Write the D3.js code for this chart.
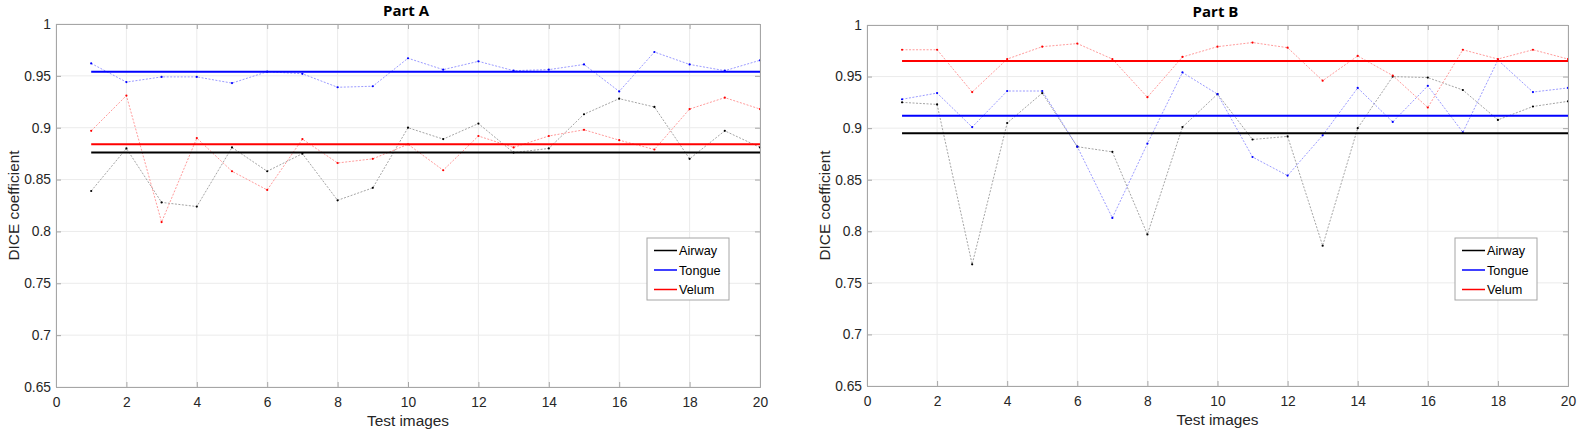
<!DOCTYPE html>
<html>
<head>
<meta charset="utf-8">
<script src="https://cdn.jsdelivr.net/npm/d3@7"></script>
<style>
  body { margin: 0; background: #fff; }
  svg { display: block; }
  .tick text { font-family: "Liberation Sans", Arial, sans-serif; font-size: 13.8px; fill: #262626; }
</style>
</head>
<body>
<svg id="chart" width="1582" height="432"></svg>
<script>
// ── Data ─────────────────────────────────────────────────────
const images = d3.range(1, 21);
const seriesNames = ["Airway", "Tongue", "Velum"];

const partA_airway = [0.839, 0.880, 0.828, 0.824, 0.881, 0.858, 0.875, 0.830, 0.842, 0.900,
                      0.889, 0.904, 0.876, 0.880, 0.913, 0.928, 0.920, 0.870, 0.897, 0.881];
const partA_tongue = [0.962, 0.944, 0.949, 0.949, 0.943, 0.954, 0.952, 0.939, 0.940, 0.967,
                      0.956, 0.964, 0.955, 0.956, 0.961, 0.935, 0.973, 0.961, 0.955, 0.965];
const partA_velum  = [0.897, 0.931, 0.809, 0.890, 0.858, 0.840, 0.889, 0.866, 0.870, 0.884,
                      0.859, 0.892, 0.881, 0.892, 0.898, 0.888, 0.879, 0.918, 0.929, 0.918];
const partA_means  = [0.876, 0.954, 0.884];

const partB_airway = [0.925, 0.923, 0.768, 0.905, 0.934, 0.882, 0.877, 0.797, 0.901, 0.933,
                      0.889, 0.892, 0.786, 0.900, 0.950, 0.949, 0.937, 0.908, 0.921, 0.926];
const partB_tongue = [0.928, 0.934, 0.901, 0.936, 0.936, 0.882, 0.813, 0.885, 0.954, 0.933,
                      0.872, 0.854, 0.893, 0.939, 0.906, 0.941, 0.896, 0.966, 0.935, 0.939];
const partB_velum  = [0.976, 0.976, 0.935, 0.967, 0.979, 0.982, 0.967, 0.930, 0.969, 0.979,
                      0.983, 0.978, 0.946, 0.970, 0.951, 0.920, 0.976, 0.967, 0.976, 0.967];
const partB_means  = [0.895, 0.912, 0.965];

const xTicks = d3.range(0, 21, 2);
const yTicks = [0.65, 0.7, 0.75, 0.8, 0.85, 0.9, 0.95, 1];

// ── Styles ───────────────────────────────────────────────────
const MEAN_COLOR = ["#000000", "#0000ff", "#ff0000"];
const LINE_COLOR = ["#9a9a9a", "#9090ff", "#ff9090"];
const AXIS_COLOR = "#a6a6a6";
const GRID_COLOR = "#ebebeb";
const FONT = "'Liberation Sans', Arial, sans-serif";

const panels = [
  { title: "Part A", left: 56, right: 760, top: 24, bottom: 387,
    series: [partA_airway, partA_tongue, partA_velum], means: partA_means },
  { title: "Part B", left: 867, right: 1568, top: 25, bottom: 386,
    series: [partB_airway, partB_tongue, partB_velum], means: partB_means }
];

const svg = d3.select("#chart");

panels.forEach(p => drawPanel(p));

function drawPanel(p) {
  const W = p.right - p.left, H = p.bottom - p.top;
  const g = svg.append("g").attr("transform", `translate(${p.left},${p.top})`);

  const x = d3.scaleLinear().domain([0, 20]).range([0, W]);
  const y = d3.scaleLinear().domain([0.65, 1]).range([H, 0]);

  // grid
  g.append("g").selectAll("line").data(xTicks).join("line")
    .attr("x1", d => x(d)).attr("x2", d => x(d)).attr("y1", 0).attr("y2", H)
    .attr("stroke", GRID_COLOR);
  g.append("g").selectAll("line").data(yTicks).join("line")
    .attr("y1", d => y(d)).attr("y2", d => y(d)).attr("x1", 0).attr("x2", W)
    .attr("stroke", GRID_COLOR);

  // data lines (dashed, light) + markers
  const line = d3.line().x((d, i) => x(images[i])).y(d => y(d));
  p.series.forEach((vals, k) => {
    g.append("path").datum(vals)
      .attr("d", line).attr("fill", "none")
      .attr("stroke", LINE_COLOR[k]).attr("stroke-width", 0.9)
      .attr("stroke-dasharray", "2,1.5");
    g.append("g").selectAll("circle").data(vals).join("circle")
      .attr("cx", (d, i) => x(images[i])).attr("cy", d => y(d))
      .attr("r", 1.1).attr("fill", MEAN_COLOR[k]);
  });

  // mean lines
  p.means.forEach((m, k) => {
    g.append("line")
      .attr("x1", x(images[0])).attr("x2", x(images[images.length - 1]))
      .attr("y1", y(m)).attr("y2", y(m))
      .attr("stroke", MEAN_COLOR[k]).attr("stroke-width", 2);
  });

  // axes (MATLAB-style box with inward ticks)
  g.append("g").attr("transform", `translate(0,${H})`)
    .call(d3.axisBottom(x).tickValues(xTicks).tickSize(-5).tickPadding(10).tickFormat(d3.format("d")));
  g.append("g")
    .call(d3.axisLeft(y).tickValues(yTicks).tickSize(-5).tickPadding(5).tickFormat(d => d3.format("")(+d.toFixed(2))));
  g.append("g").call(d3.axisTop(x).tickValues(xTicks).tickSize(-5).tickFormat(""));
  g.append("g").attr("transform", `translate(${W},0)`)
    .call(d3.axisRight(y).tickValues(yTicks).tickSize(-5).tickFormat(""));
  g.selectAll(".domain, .tick line").attr("stroke", AXIS_COLOR);

  // title + axis labels
  g.append("text").attr("x", W / 2 - 2).attr("y", -8)
    .attr("text-anchor", "middle")
    .style("font-family", "'Open Sans', sans-serif").style("font-weight", "bold").style("font-size", "15px")
    .text(p.title);
  g.append("text").attr("x", W / 2).attr("y", H + 39)
    .attr("text-anchor", "middle")
    .style("font-family", FONT).style("font-size", "15.4px").attr("fill", "#262626")
    .text("Test images");
  g.append("text").attr("transform", `translate(-37,${H / 2}) rotate(-90)`)
    .attr("text-anchor", "middle")
    .style("font-family", FONT).style("font-size", "15.4px").attr("fill", "#262626")
    .text("DICE coefficient");

  // legend
  const lg = g.append("g").attr("transform", `translate(${W - 113},${238 - p.top})`);
  lg.append("rect").attr("width", 82).attr("height", 62)
    .attr("fill", "#fff").attr("stroke", "#a6a6a6");
  seriesNames.forEach((name, k) => {
    const ry = 12.5 + k * 19.5;
    lg.append("line").attr("x1", 7).attr("x2", 30).attr("y1", ry).attr("y2", ry)
      .attr("stroke", MEAN_COLOR[k]).attr("stroke-width", 1.5);
    lg.append("text").attr("x", 32).attr("y", ry + 4.5)
      .style("font-family", FONT).style("font-size", "12.7px")
      .attr("fill", "#000").text(name);
  });
}
</script>
</body>
</html>
